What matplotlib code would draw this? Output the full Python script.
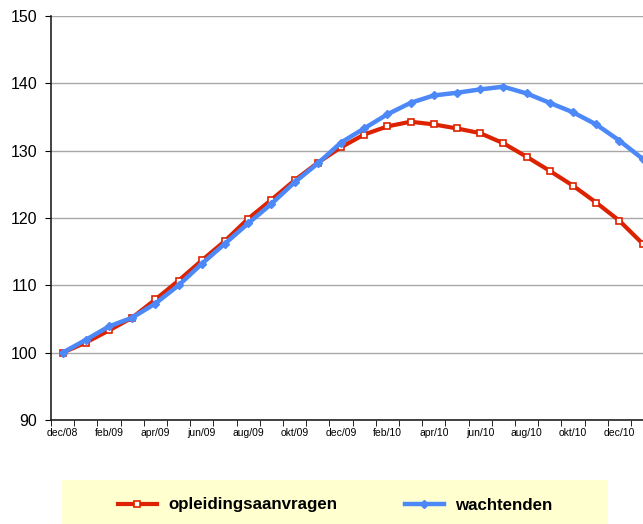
import matplotlib
matplotlib.use("Agg")
import matplotlib.pyplot as plt
from matplotlib.patches import Rectangle
import numpy as np

plt.rcParams['font.family'] = ['Liberation Sans', 'DejaVu Sans']

# maanden dec/08 .. jan/11
months = ['dec/08', 'jan/09', 'feb/09', 'mrt/09', 'apr/09', 'mei/09', 'jun/09',
          'jul/09', 'aug/09', 'sep/09', 'okt/09', 'nov/09', 'dec/09', 'jan/10',
          'feb/10', 'mrt/10', 'apr/10', 'mei/10', 'jun/10', 'jul/10', 'aug/10',
          'sep/10', 'okt/10', 'nov/10', 'dec/10', 'jan/11']

opleidingsaanvragen = [100.0, 101.5, 103.3, 105.2, 107.9, 110.7, 113.7, 116.6,
                       119.9, 122.7, 125.6, 128.2, 130.5, 132.4, 133.6, 134.3,
                       133.9, 133.3, 132.6, 131.1, 129.1, 127.0, 124.8, 122.3,
                       119.6, 116.2]
wachtenden = [100.0, 101.9, 103.9, 105.2, 107.3, 110.0, 113.2, 116.2, 119.2,
              122.1, 125.3, 128.1, 131.2, 133.3, 135.4, 137.1, 138.2, 138.6,
              139.1, 139.5, 138.5, 137.1, 135.7, 133.9, 131.5, 128.8]

red = '#dd2200'
blue = '#4c88f8'

fig = plt.figure(figsize=(6.43, 5.24), dpi=100)
ax = fig.add_axes([51/643, 1-420/524, 1-51/643, (420-16)/524])

x = np.arange(len(months))
ax.plot(x, opleidingsaanvragen, color=red, lw=3, marker='s', ms=4.2,
        mfc='white', mec=red, mew=1.2, label='opleidingsaanvragen', zorder=3)
ax.plot(x, wachtenden, color=blue, lw=3.2, marker='D', ms=4.2,
        mfc=blue, mec=blue, label='wachtenden', zorder=4)

ax.set_xlim(-0.5, 25.02)
ax.set_ylim(90, 150)
ax.set_yticks(range(90, 151, 10))
ax.yaxis.grid(True, color='#a8a8a8', lw=1)
ax.set_axisbelow(True)
ax.tick_params(axis='y', labelsize=11.5, length=4, direction='out', pad=6)

ax.set_xticks(x[::2])
ax.set_xticklabels(months[::2], fontsize=7.5)
ax.set_xticks(np.arange(-0.5, 25.5, 1), minor=True)
ax.tick_params(axis='x', which='major', length=0, pad=6)
ax.tick_params(axis='x', which='minor', length=4, direction='out')

for s in ['top', 'right']:
    ax.spines[s].set_visible(False)
ax.spines['left'].set_color('#222222')
ax.spines['bottom'].set_color('#222222')
ax.spines['left'].set_linewidth(1.2)
ax.spines['bottom'].set_linewidth(1.2)

# legenda met gele achtergrond
fig.patches.append(Rectangle((62/643, 0), (608-62)/643, (524-480)/524,
                             transform=fig.transFigure, facecolor='#ffffd0',
                             edgecolor='none', zorder=0))
leg = fig.legend(loc='center', bbox_to_anchor=(335/643, 1-505/524), ncol=2,
                 frameon=False, handlelength=2.3, handletextpad=0.65,
                 columnspacing=4.0, prop={'weight': 'bold', 'size': 12.2})

fig.savefig('out.png', dpi=100)
